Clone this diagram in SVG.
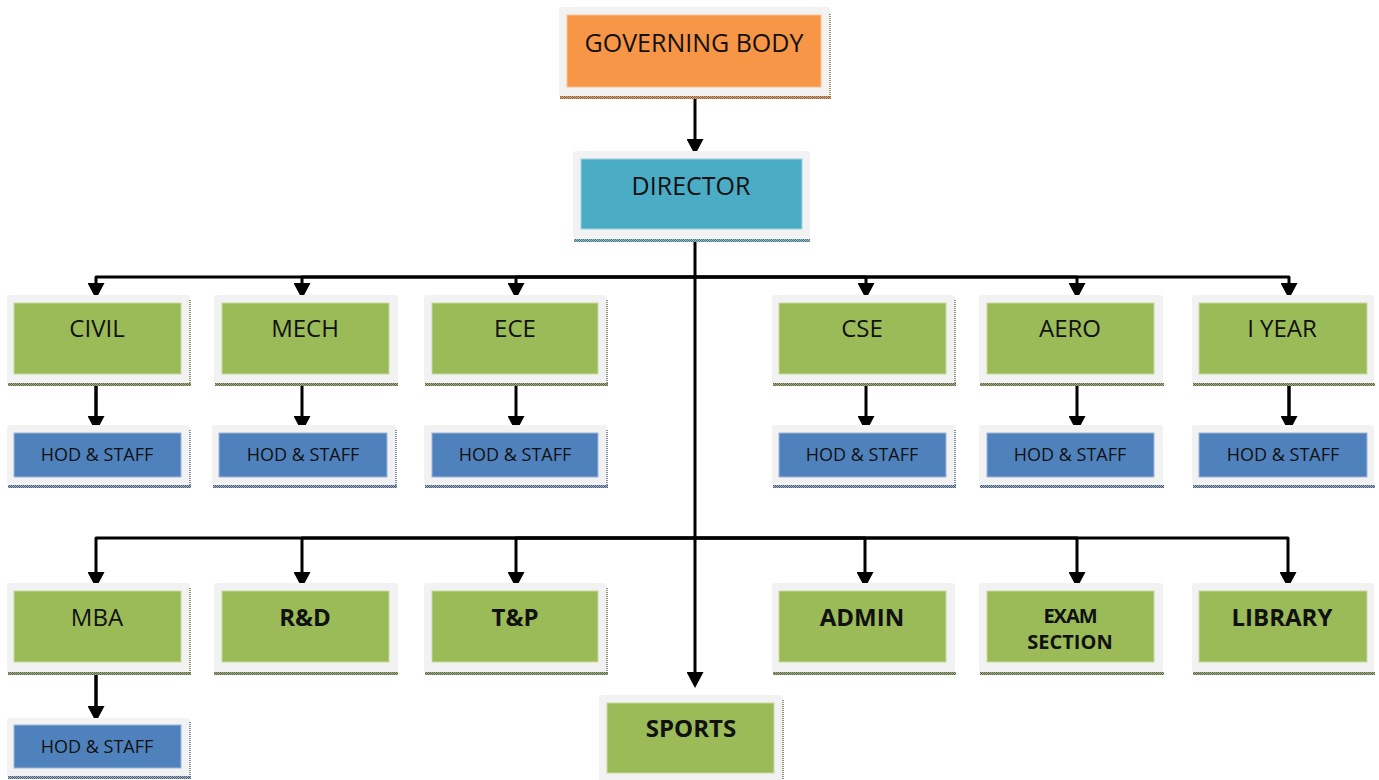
<svg xmlns="http://www.w3.org/2000/svg" width="1379" height="780" viewBox="0 0 1379 780">
<defs>
<style>
.frame{fill:#f2f2f2}
.org{fill:#f79646;stroke:#fbc08e;stroke-width:1}
.dir{fill:#4bacc6;stroke:#9fd3e0;stroke-width:1}
.grn{fill:#9bbb59;stroke:#c6d9a0;stroke-width:1}
.blu{fill:#4f81bd;stroke:#9db6d8;stroke-width:1}
.shr{fill:none;stroke-width:1.5;stroke-dasharray:1 1}
.so{stroke:#9a6a3e}
.sd{stroke:#527f8c}
.sg{stroke:#6b7550}
.sb{stroke:#5b6e90}
.bo{fill:url(#po)}
.bd{fill:url(#pd)}
.bg{fill:url(#pg)}
.bb{fill:url(#pb)}
.t{font-family:"Open Sans","Liberation Sans",sans-serif;fill:#111;text-anchor:middle}
.lg{font-size:25px}
.md{font-size:24px}
.sm{font-size:18px}
.b{font-weight:bold}
.cn{fill:none;stroke:#000;stroke-width:3;stroke-linejoin:round}
.ck{stroke-width:3.5}
</style>
<pattern id="pg" width="2" height="2" patternUnits="userSpaceOnUse">
<rect width="2" height="2" fill="#a3b37e"/><rect width="1" height="1" fill="#5d6450"/><rect x="1" y="1" width="1" height="1" fill="#5d6450"/>
</pattern>
<pattern id="pb" width="2" height="2" patternUnits="userSpaceOnUse">
<rect width="2" height="2" fill="#9fb2cf"/><rect width="1" height="1" fill="#4f5a6e"/><rect x="1" y="1" width="1" height="1" fill="#4f5a6e"/>
</pattern>
<pattern id="po" width="2" height="2" patternUnits="userSpaceOnUse">
<rect width="2" height="2" fill="#e0ad80"/><rect width="1" height="1" fill="#8a5a35"/><rect x="1" y="1" width="1" height="1" fill="#8a5a35"/>
</pattern>
<pattern id="pd" width="2" height="2" patternUnits="userSpaceOnUse">
<rect width="2" height="2" fill="#92c6d4"/><rect width="1" height="1" fill="#4a6e78"/><rect x="1" y="1" width="1" height="1" fill="#4a6e78"/>
</pattern>
<marker id="ah" markerUnits="userSpaceOnUse" markerWidth="17" markerHeight="17" refX="0" refY="8.5" orient="auto" viewBox="0 0 16 17">
<path d="M0,0 L16,8.5 L0,17 z" fill="#000"/>
</marker>
</defs>

<g id="connectors">
<path class="cn" d="M695,97 V139" marker-end="url(#ah)"/>
<path class="cn" d="M695,239 V672" marker-end="url(#ah)"/>
<path class="cn" d="M695,277 H96 V283" marker-end="url(#ah)"/>
<path class="cn" d="M695,277 H302 V283" marker-end="url(#ah)"/>
<path class="cn" d="M695,277 H516 V283" marker-end="url(#ah)"/>
<path class="cn" d="M695,277 H866 V283" marker-end="url(#ah)"/>
<path class="cn" d="M695,277 H1077 V283" marker-end="url(#ah)"/>
<path class="cn" d="M695,277 H1289 V283" marker-end="url(#ah)"/>
<path class="cn ck" d="M96,374 V416" marker-end="url(#ah)"/>
<path class="cn" d="M302,374 V416" marker-end="url(#ah)"/>
<path class="cn" d="M516,374 V416" marker-end="url(#ah)"/>
<path class="cn" d="M866,374 V416" marker-end="url(#ah)"/>
<path class="cn" d="M1077,374 V416" marker-end="url(#ah)"/>
<path class="cn ck" d="M1289,374 V416" marker-end="url(#ah)"/>
<path class="cn" d="M695,538 H96 V572" marker-end="url(#ah)"/>
<path class="cn" d="M695,538 H302 V572" marker-end="url(#ah)"/>
<path class="cn" d="M695,538 H516 V572" marker-end="url(#ah)"/>
<path class="cn" d="M695,538 H865 V572" marker-end="url(#ah)"/>
<path class="cn" d="M695,538 H1077 V572" marker-end="url(#ah)"/>
<path class="cn" d="M695,538 H1288 V572" marker-end="url(#ah)"/>
<path class="cn ck" d="M96,662 V706" marker-end="url(#ah)"/>
</g>

<g id="governing-body">
<rect class="frame" x="559" y="7" width="271" height="90" rx="3"/>
<rect class="org" x="567" y="15" width="254" height="72"/>
<rect class="bo" x="560" y="96" width="271" height="3"/>
<line class="shr so" x1="830" y1="14" x2="830" y2="97"/>
<text class="t lg" x="694" y="52">GOVERNING BODY</text>
</g>

<g id="director">
<rect class="frame" x="573" y="151" width="237" height="88" rx="3"/>
<rect class="dir" x="581" y="159" width="221" height="70"/>
<rect class="bd" x="574" y="239" width="236" height="3"/>
<text class="t lg" x="691" y="195">DIRECTOR</text>
</g>

<g id="civil">
<rect class="frame" x="7" y="295" width="183" height="89" rx="3"/>
<rect class="grn" x="14" y="303" width="167" height="71"/>
<rect class="bg" x="8" y="383" width="183" height="3"/>
<line class="shr sg" x1="190" y1="300" x2="190" y2="384"/>
<text class="t md" x="97" y="337">CIVIL</text>
</g>
<g id="civil-hod">
<rect class="frame" x="7" y="425" width="183" height="61" rx="3"/>
<rect class="blu" x="14" y="433" width="167" height="44"/>
<rect class="bb" x="8" y="485" width="183" height="3"/>
<line class="shr sb" x1="190" y1="430" x2="190" y2="486"/>
<text class="t sm" x="97" y="461">HOD &amp; STAFF</text>
</g>

<g id="mech">
<rect class="frame" x="214" y="295" width="184" height="89" rx="3"/>
<rect class="grn" x="222" y="303" width="167" height="71"/>
<rect class="bg" x="215" y="383" width="183" height="3"/>
<text class="t md" x="305" y="337">MECH</text>
</g>
<g id="mech-hod">
<rect class="frame" x="212" y="425" width="184" height="61" rx="3"/>
<rect class="blu" x="219" y="433" width="168" height="44"/>
<rect class="bb" x="213" y="485" width="184" height="3"/>
<line class="shr sb" x1="396" y1="430" x2="396" y2="486"/>
<text class="t sm" x="303" y="461">HOD &amp; STAFF</text>
</g>

<g id="ece">
<rect class="frame" x="424" y="295" width="183" height="89" rx="3"/>
<rect class="grn" x="432" y="303" width="166" height="71"/>
<rect class="bg" x="425" y="383" width="183" height="3"/>
<line class="shr sg" x1="607" y1="300" x2="607" y2="384"/>
<text class="t md" x="515" y="337">ECE</text>
</g>
<g id="ece-hod">
<rect class="frame" x="424" y="425" width="183" height="61" rx="3"/>
<rect class="blu" x="432" y="433" width="166" height="44"/>
<rect class="bb" x="425" y="485" width="183" height="3"/>
<line class="shr sb" x1="607" y1="430" x2="607" y2="486"/>
<text class="t sm" x="515" y="461">HOD &amp; STAFF</text>
</g>

<g id="cse">
<rect class="frame" x="772" y="295" width="183" height="89" rx="3"/>
<rect class="grn" x="779" y="303" width="167" height="71"/>
<rect class="bg" x="773" y="383" width="183" height="3"/>
<line class="shr sg" x1="955" y1="300" x2="955" y2="384"/>
<text class="t md" x="862" y="337">CSE</text>
</g>
<g id="cse-hod">
<rect class="frame" x="772" y="425" width="183" height="61" rx="3"/>
<rect class="blu" x="779" y="433" width="167" height="44"/>
<rect class="bb" x="773" y="485" width="183" height="3"/>
<line class="shr sb" x1="955" y1="430" x2="955" y2="486"/>
<text class="t sm" x="862" y="461">HOD &amp; STAFF</text>
</g>

<g id="aero">
<rect class="frame" x="979" y="295" width="184" height="89" rx="3"/>
<rect class="grn" x="987" y="303" width="167" height="71"/>
<rect class="bg" x="980" y="383" width="184" height="3"/>
<text class="t md" x="1070" y="337">AERO</text>
</g>
<g id="aero-hod">
<rect class="frame" x="979" y="425" width="184" height="61" rx="3"/>
<rect class="blu" x="987" y="433" width="167" height="44"/>
<rect class="bb" x="980" y="485" width="184" height="3"/>
<text class="t sm" x="1070" y="461">HOD &amp; STAFF</text>
</g>

<g id="i-year">
<rect class="frame" x="1192" y="295" width="182" height="89" rx="3"/>
<rect class="grn" x="1199" y="303" width="168" height="71"/>
<rect class="bg" x="1193" y="383" width="182" height="3"/>
<text class="t md" x="1282" y="337">I YEAR</text>
</g>
<g id="i-year-hod">
<rect class="frame" x="1192" y="425" width="182" height="61" rx="3"/>
<rect class="blu" x="1199" y="433" width="168" height="44"/>
<rect class="bb" x="1193" y="485" width="182" height="3"/>
<text class="t sm" x="1283" y="461">HOD &amp; STAFF</text>
</g>

<g id="mba">
<rect class="frame" x="7" y="583" width="183" height="89" rx="3"/>
<rect class="grn" x="14" y="591" width="167" height="71"/>
<rect class="bg" x="8" y="672" width="183" height="3"/>
<line class="shr sg" x1="190" y1="588" x2="190" y2="673"/>
<text class="t md" x="97" y="626">MBA</text>
</g>
<g id="mba-hod">
<rect class="frame" x="7" y="718" width="183" height="59" rx="3"/>
<rect class="blu" x="14" y="725" width="167" height="43"/>
<rect class="bb" x="8" y="776" width="183" height="3"/>
<line class="shr sb" x1="190" y1="722" x2="190" y2="777"/>
<text class="t sm" x="97" y="753">HOD &amp; STAFF</text>
</g>

<g id="rnd">
<rect class="frame" x="214" y="583" width="184" height="89" rx="3"/>
<rect class="grn" x="222" y="591" width="167" height="71"/>
<rect class="bg" x="214" y="672" width="184" height="3"/>
<text class="t md b" x="305" y="626">R&amp;D</text>
</g>

<g id="tnp">
<rect class="frame" x="424" y="583" width="183" height="89" rx="3"/>
<rect class="grn" x="432" y="591" width="166" height="71"/>
<rect class="bg" x="425" y="672" width="183" height="3"/>
<line class="shr sg" x1="607" y1="588" x2="607" y2="673"/>
<text class="t md b" x="515" y="626">T&amp;P</text>
</g>

<g id="admin">
<rect class="frame" x="772" y="583" width="183" height="89" rx="3"/>
<rect class="grn" x="779" y="591" width="167" height="71"/>
<rect class="bg" x="773" y="672" width="183" height="3"/>
<text class="t md b" x="862" y="626">ADMIN</text>
</g>

<g id="exam-section">
<rect class="frame" x="979" y="583" width="184" height="89" rx="3"/>
<rect class="grn" x="987" y="591" width="167" height="71"/>
<rect class="bg" x="980" y="672" width="184" height="3"/>
<text class="t b" style="font-size:20px;letter-spacing:-1px" x="1070" y="623">EXAM</text>
<text class="t b" style="font-size:20px" x="1070" y="649">SECTION</text>
</g>

<g id="library">
<rect class="frame" x="1192" y="583" width="182" height="89" rx="3"/>
<rect class="grn" x="1199" y="591" width="168" height="71"/>
<rect class="bg" x="1193" y="672" width="182" height="3"/>
<text class="t md b" x="1282" y="626">LIBRARY</text>
</g>

<g id="sports">
<rect class="frame" x="599" y="695" width="184" height="90" rx="3"/>
<rect class="grn" x="607" y="703" width="167" height="70"/>
<line class="shr sg" x1="783" y1="700" x2="783" y2="780"/>
<text class="t md b" x="691" y="737">SPORTS</text>
</g>
</svg>
